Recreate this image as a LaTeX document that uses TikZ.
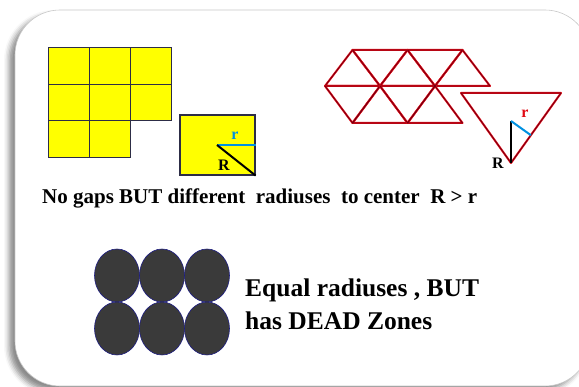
\documentclass[tikz,border=0pt]{standalone}
\usepackage{fontspec}
\setmainfont{Liberation Serif}
\usepackage{tikz}
\usetikzlibrary{calc, shadows.blur}
\definecolor{cardline}{RGB}{200,200,200}
\definecolor{tileyellow}{RGB}{255,255,0}
\definecolor{tileline}{RGB}{45,45,70}
\definecolor{rblue}{RGB}{0,145,225}
\definecolor{trired}{RGB}{225,10,20}
\definecolor{tridark}{RGB}{110,0,20}
\definecolor{discfill}{RGB}{58,58,58}
\definecolor{discline}{RGB}{30,30,130}
\tikzset{
  card/.style={draw=cardline, fill=white, rounded corners=45pt, line width=0.6pt,
    blur shadow={shadow xshift=-6pt, shadow yshift=-5pt, shadow blur radius=5pt, shadow opacity=45}},
  cell/.style={draw=tileline, fill=tileyellow, line width=1pt},
  tri/.style={draw=trired, line width=2pt, line join=round},
  tricore/.style={draw=tridark, line width=0.7pt, line join=round},
  rline/.style={draw=rblue, line width=2pt},
  bigrline/.style={draw=black, line width=2pt},
  disc/.style={fill=discfill, draw=discline, line width=0.6pt},
  caption/.style={font=\bfseries\fontsize{21}{25}\selectfont, inner sep=0pt, anchor=base west},
  bigcaption/.style={font=\bfseries\fontsize{25.5}{30}\selectfont, inner sep=0pt, anchor=base west},
  radlabel/.style={font=\bfseries\fontsize{16}{18}\selectfont, inner sep=0pt}
}

\begin{document}
\begin{tikzpicture}[x=1pt, y=-1pt]
  \useasboundingbox (0,0) rectangle (579,387);

  % Card
  \draw[card] (15,10) rectangle (590,386);

  % Square tiles
  \foreach \i/\j in {0/0,1/0,2/0,0/1,1/1,2/1,0/2,1/2}
    \draw[cell] (48+41*\i, 48+36.5*\j) rectangle ++(41,36.5);

  % One square with its radii
  \node[cell, draw=tileline, line width=1.2pt, minimum width=75pt, minimum height=60pt, inner sep=0pt] (onesq) at (217.5,145) {};
  \coordinate (sqc) at (217,145);
  \draw[rline] (sqc) -- (onesq.east |- sqc);
  \draw[bigrline] (sqc) -- (onesq.south east);
  \node[radlabel, text=rblue] (sqr) at (235,136) {r};
  \node[radlabel] (sqR) at (224,165) {R};

  % Triangle tiles
  \foreach \k in {0,1,2} {
    \draw[tri] (325+55*\k,86) -- (352.5+55*\k,50) -- (380+55*\k,86) -- cycle;
    \draw[tricore] (325+55*\k,86) -- (352.5+55*\k,50) -- (380+55*\k,86) -- cycle;
  }
  \foreach \k in {0,1} {
    \draw[tri] (352.5+55*\k,50) -- (407.5+55*\k,50) -- (380+55*\k,86) -- cycle;
    \draw[tri] (325+55*\k,86) -- (380+55*\k,86) -- (352.5+55*\k,123) -- cycle;
    \draw[tri] (352.5+55*\k,123) -- (380+55*\k,86) -- (407.5+55*\k,123) -- cycle;
    \draw[tricore] (352.5+55*\k,50) -- (407.5+55*\k,50) -- (380+55*\k,86) -- cycle;
    \draw[tricore] (325+55*\k,86) -- (380+55*\k,86) -- (352.5+55*\k,123) -- cycle;
    \draw[tricore] (352.5+55*\k,123) -- (380+55*\k,86) -- (407.5+55*\k,123) -- cycle;
  }

  % One triangle with its radii
  \coordinate (ttl) at (461,93);
  \coordinate (ttr) at (561,93);
  \coordinate (ttb) at (511,163);
  \coordinate (ttc) at (511,121);
  \draw[tri] (ttl) -- (ttr) -- (ttb) -- cycle;
  \draw[tricore] (ttl) -- (ttr) -- (ttb) -- cycle;
  \draw[bigrline] (ttc) -- (ttb);
  \draw[rline] (ttc) -- ($(ttr)!(ttc)!(ttb)$);
  \node[radlabel, text=trired] (trir) at (525,114) {r};
  \node[radlabel] (triR) at (498,163) {R};

  \node[caption] (gapsnote) at (42,204) {No gaps BUT different\ \ radiuses\ \ to center\ \ R > r};

  % Circles
  \foreach \i in {0,1,2}
    \foreach \j in {0,1}
      \draw[disc] (117+45*\i, 275.5+53*\j) ellipse [x radius=22.5, y radius=26.5];

  \node[bigcaption] (deadnote) at (245,297) {Equal radiuses , BUT};
  \node[bigcaption] (deadnotetwo) at (245,330) {has DEAD Zones};
\end{tikzpicture}
\end{document}
